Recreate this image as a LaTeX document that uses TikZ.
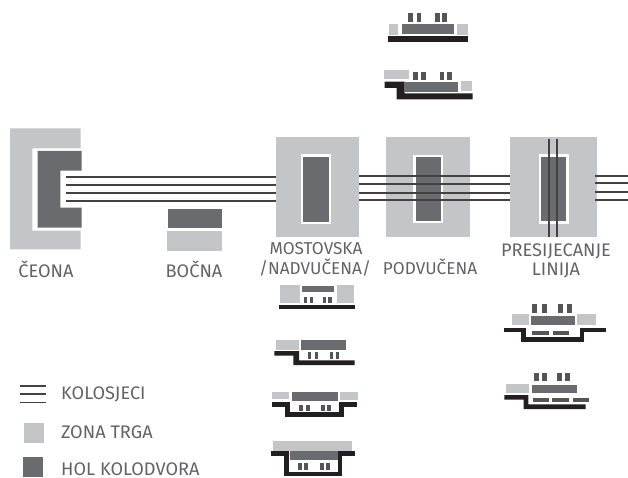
\documentclass[tikz,border=0pt]{standalone}
\usepackage{fontspec}
\setmainfont{Fira Sans}
\definecolor{kolZona}{HTML}{C4C5C7}
\definecolor{kolHol}{HTML}{6A6B6E}
\definecolor{kolCrna}{HTML}{231F20}
\definecolor{kolTekst}{HTML}{626365}
\tikzset{
  kol zona/.style={fill=kolZona},
  kol hol/.style={fill=kolHol},
  kol bijela/.style={fill=white},
  kol peron/.style={fill=kolHol!70!kolCrna},
  kol crna/.style={fill=kolCrna},
  kol profil/.style={draw=kolCrna, line width=4.6pt, miter limit=10},
  kol track/.style={draw=kolCrna!85!white, line width=1.7pt},
  kol label/.style={font=\fontsize{17.2}{17.2}\selectfont, text=kolTekst, inner sep=0pt},
  kol wide label/.style={font=\fontsize{18.2}{18.2}\selectfont, text=kolTekst, inner sep=0pt},
}
\begin{document}
\begin{tikzpicture}[x=1pt,y=-1pt]
  \useasboundingbox (0,0) rectangle (628,478);
  \foreach \y in {177,185,193,201} {
    \draw[kol track] (66,\y) -- (277,\y);
  }
  \fill[kol zona] (10,128.3) -- (80.7,128.3) -- (80.7,148.3) -- (32.3,148.3) -- (32.3,230.7) -- (80.7,230.7) -- (80.7,249.3) -- (10,249.3) -- cycle;
  \fill[kol hol] (37.7,151) -- (81.7,151) -- (81.7,170.7) -- (60.3,170.7) -- (60.3,207.7) -- (81.7,207.7) -- (81.7,227.7) -- (37.7,227.7) -- cycle;
  \fill[kol hol] (167.7,208.7) rectangle (222.3,227.7);
  \fill[kol zona] (166.7,231) rectangle (222,251);
  \fill[kol zona] (275.7,137.3) rectangle (359,236.7);
  \fill[kol bijela] (300.7,154.3) rectangle (331.3,224.3);
  \fill[kol hol] (302.7,156.7) rectangle (329.3,222);
  \fill[kol zona] (385.7,136.7) rectangle (470,236.7);
  \fill[kol bijela] (413.3,155) rectangle (443,222.7);
  \fill[kol hol] (416.3,157.3) rectangle (441,220.7);
  \foreach \y in {176.3,184.3,192.7,200.3} {
    \draw[kol track] (359,\y) -- (510,\y);
  }
  \fill[kol zona] (510,136.7) rectangle (596.7,236.7);
  \fill[kol bijela] (539,154) rectangle (568.7,223.7);
  \fill[kol hol] (541.3,157) rectangle (566,221.3);
  \foreach \x in {548.7,557} {
    \draw[kol track] (\x,139.3) -- (\x,236.7);
  }
  \foreach \y in {175.7,183.3,192.3,199.7} {
    \draw[kol track] (595,\y) -- (628,\y);
  }
  \node[kol wide label] (ceona) at (46,269) {ČEONA};
  \node[kol wide label] (bocna) at (194,269) {BOČNA};
  \node[kol label] (mostovska) at (316,249) {MOSTOVSKA};
  \node[kol label] (nadvucena) at (315,267.7) {/NADVUČENA/};
  \node[kol label] (podvucena) at (430,267) {PODVUČENA};
  \node[kol wide label] (presijecanje) at (556,251.7) {PRESIJECANJE};
  \node[kol wide label] (linija) at (556,270.7) {LINIJA};
  \fill[kol zona] (389,24.3) rectangle (398.3,35);
  \fill[kol hol] (401.7,24) rectangle (454,34.3);
  \fill[kol zona] (456.7,24.3) rectangle (467.7,35);
  \fill[kol crna] (388.3,36.3) rectangle (468.3,42.3);
  \foreach \x in {408.3,416.7,435,442.3} {
    \fill[kol peron] (\x,13.3) rectangle ++(4.6,8.7);
  }
  \fill[kol zona] (384.3,69.7) rectangle (408.7,79.3);
  \fill[kol hol] (405.3,81.7) rectangle (457.7,92);
  \fill[kol zona] (461,81.3) rectangle (471.7,91);
  \foreach \x in {413,421,439.7,447} {
    \fill[kol peron] (\x,72.3) rectangle ++(4.5,7.7);
  }
  \fill[kol crna] (384.7,81.7) -- (404.7,81.7) -- (404.7,93.3) -- (472.7,93.3) -- (472.7,99.3) -- (396.7,99.3) -- (396.7,88) -- (384.7,88) -- cycle;
  \fill[kol zona] (280,285) rectangle (300.3,303);
  \fill[kol hol] (302.3,285.7) rectangle (334,292.3);
  \fill[kol zona] (337,285) rectangle (354.3,303);
  \foreach \x in {303.7,309.7,323,328.3} {
    \fill[kol peron] (\x,297.3) rectangle ++(3.4,5.7);
  }
  \fill[kol crna] (279.3,304.7) rectangle (355,309.3);
  \fill[kol zona] (275.7,340.3) rectangle (299,350);
  \fill[kol hol] (300.7,340.3) rectangle (346.3,350);
  \foreach \x in {307.7,314.7,329.7,335.7} {
    \fill[kol peron] (\x,352.3) rectangle ++(3.7,6.7);
  }
  \fill[kol crna] (274.3,351) -- (299,351) -- (299,360.3) -- (354.7,360.3) -- (354.7,365) -- (293.3,365) -- (293.3,355.7) -- (274.3,355.7) -- cycle;
  \fill[kol zona] (271.7,391.7) rectangle (289.3,399.3);
  \fill[kol hol] (292.3,391.7) rectangle (337.7,400.7);
  \fill[kol zona] (340,392.3) rectangle (357.7,399.7);
  \foreach \x in {299.3,306,321.3,327.3} {
    \fill[kol peron] (\x,404.7) rectangle ++(3.6,6.3);
  }
  \draw[kol profil] (272.3,404.5) -- (287.3,404.5) -- (287.3,414.5) -- (341.3,414.5) -- (341.3,404.5) -- (356.7,404.5);
  \fill[kol zona] (273.3,440.7) rectangle (352.3,450.7);
  \fill[kol hol] (289.7,450.7) rectangle (337.7,460);
  \foreach \x in {297.7,304.3,319.7,325.7} {
    \fill[kol peron] (\x,463) rectangle ++(4.1,7);
  }
  \draw[kol profil] (271,453.2) -- (286.3,453.2) -- (286.3,473.8) -- (340,473.8) -- (340,453.2) -- (355,453.2);
  \fill[kol zona] (512.3,314.3) rectangle (529.3,325);
  \fill[kol hol] (531,315.7) rectangle (575,325);
  \fill[kol zona] (577.3,314.3) rectangle (595.7,325);
  \foreach \x in {532.3,541.7,557.7,567.3} {
    \fill[kol peron] (\x,304) rectangle ++(5,8.7);
  }
  \foreach \x in {532.3,552.7} {
    \fill[kol peron] (\x,331) rectangle ++(16.2,3.7);
  }
  \draw[kol profil] (504.3,329.8) -- (523.3,329.8) -- (523.3,339.3) -- (582,339.3) -- (582,329.8) -- (606,329.8);
  \fill[kol zona] (506,384) rectangle (529.3,392.7);
  \fill[kol hol] (532,384.7) rectangle (576.7,393.3);
  \foreach \x in {534.3,541.7,557.3,565} {
    \fill[kol peron] (\x,373.3) rectangle ++(5,8);
  }
  \foreach \x in {532.7,552.3,572.7} {
    \fill[kol peron] (\x,398.3) rectangle ++(16.2,3.7);
  }
  \fill[kol crna] (504.3,395) -- (528.3,395) -- (528.3,404.3) -- (585.7,404.3) -- (585.7,409) -- (523.7,409) -- (523.7,399.7) -- (504.3,399.7) -- cycle;
  \foreach \y in {386,394,402.7} {
    \draw[kol track, line width=1.2pt] (20,\y) -- (45.7,\y);
  }
  \fill[kol zona] (24,422.7) rectangle (44.3,443.3);
  \fill[kol hol] (22.7,456.7) rectangle (43.3,477.3);
  \node[kol wide label, anchor=west] (kolosjeci) at (61,394.3) {KOLOSJECI};
  \node[kol wide label, anchor=west] (zona) at (61,432.3) {ZONA TRGA};
  \node[kol wide label, anchor=west] (hol) at (61,469.5) {HOL KOLODVORA};
\end{tikzpicture}
\end{document}
